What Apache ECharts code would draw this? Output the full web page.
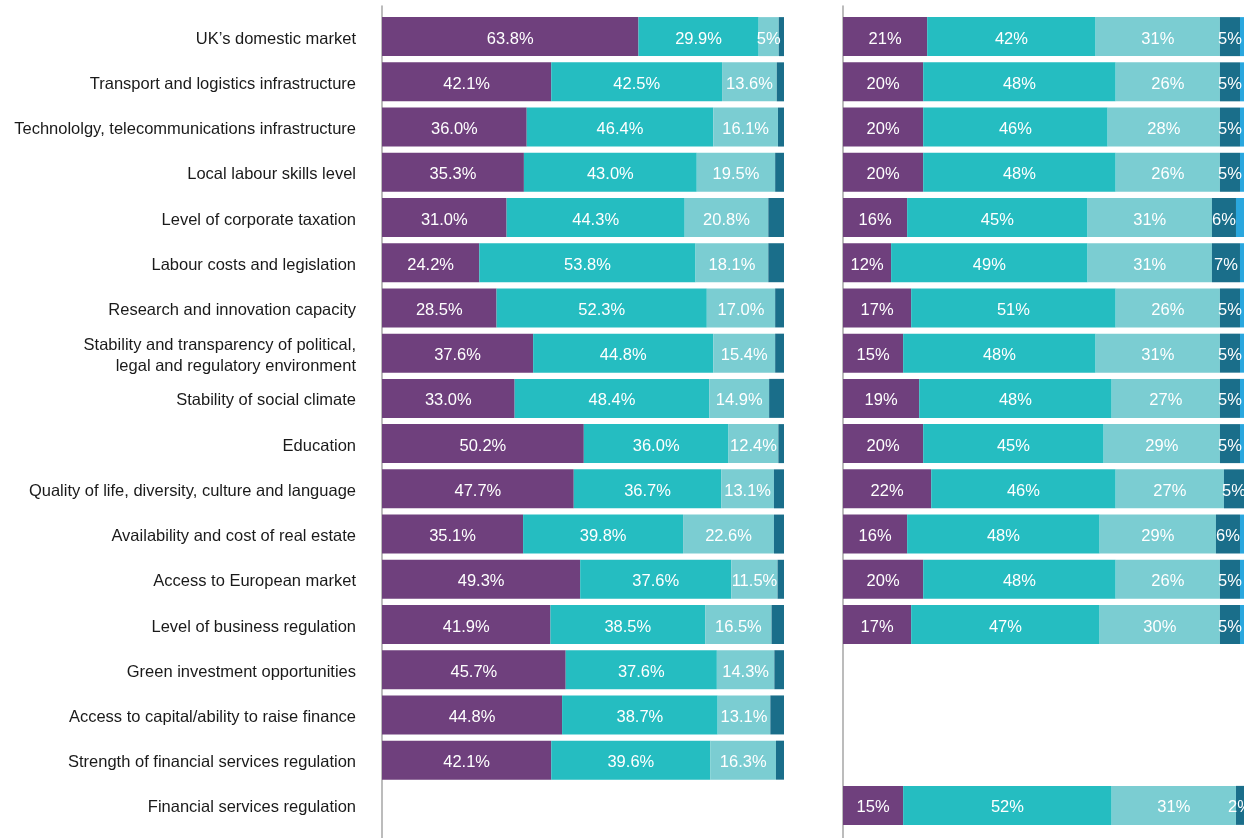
<!DOCTYPE html>
<html>
<head>
<meta charset="utf-8">
<script src="https://cdn.jsdelivr.net/npm/echarts@6/dist/echarts.min.js"></script>
<style>html,body{margin:0;padding:0;background:#fff}#c{width:1247px;height:838px}</style>
</head>
<body>
<div id="c"></div>
<script>
const categories = [
  "UK’s domestic market",
  "Transport and logistics infrastructure",
  "Technololgy, telecommunications infrastructure",
  "Local labour skills level",
  "Level of corporate taxation",
  "Labour costs and legislation",
  "Research and innovation capacity",
  "Stability and transparency of political,\nlegal and regulatory environment",
  "Stability of social climate",
  "Education",
  "Quality of life, diversity, culture and language",
  "Availability and cost of real estate",
  "Access to European market",
  "Level of business regulation",
  "Green investment opportunities",
  "Access to capital/ability to raise finance",
  "Strength of financial services regulation",
  "Financial services regulation"
];

// Left panel (one decimal)
const leftPurple = [63.8, 42.1, 36.0, 35.3, 31.0, 24.2, 28.5, 37.6, 33.0, 50.2, 47.7, 35.1, 49.3, 41.9, 45.7, 44.8, 42.1, null];
const leftTeal   = [29.9, 42.5, 46.4, 43.0, 44.3, 53.8, 52.3, 44.8, 48.4, 36.0, 36.7, 39.8, 37.6, 38.5, 37.6, 38.7, 39.6, null];
const leftLight  = [5.0, 13.6, 16.1, 19.5, 20.8, 18.1, 17.0, 15.4, 14.9, 12.4, 13.1, 22.6, 11.5, 16.5, 14.3, 13.1, 16.3, null];
const leftDark   = [1.3, 1.8, 1.5, 2.2, 3.9, 3.9, 2.2, 2.2, 3.7, 1.4, 2.5, 2.5, 1.6, 3.1, 2.4, 3.4, 2.0, null];
const leftLightShortLabel = { 0: "5%" };

// Right panel (whole percent)
const rightPurple = [21, 20, 20, 20, 16, 12, 17, 15, 19, 20, 22, 16, 20, 17, null, null, null, 15];
const rightTeal   = [42, 48, 46, 48, 45, 49, 51, 48, 48, 45, 46, 48, 48, 47, null, null, null, 52];
const rightLight  = [31, 26, 28, 26, 31, 31, 26, 31, 27, 29, 27, 29, 26, 30, null, null, null, 31];
const rightDark   = [5, 5, 5, 5, 6, 7, 5, 5, 5, 5, 5, 6, 5, 5, null, null, null, 2];
const rightBlue   = [1, 1, 1, 1, 2, 1, 1, 1, 1, 1, 0, 1, 1, 1, null, null, null, 0];

const colors = { purple: "#6f407d", teal: "#25bdc1", light: "#7bcdd2", dark: "#1a6e8a", blue: "#2aa7de" };

// pick the narrowest installed face
const mctx = document.createElement('canvas').getContext('2d');
function measure(font, s) { mctx.font = font; return mctx.measureText(s).width; }
const probe = "Technololgy, telecommunications infrastructure";
const candidates = [
  { style: 'normal', family: "'Liberation Sans Narrow'" },
  { style: 'condensed', family: "'DejaVu Sans Condensed'" },
  { style: 'condensed', family: "'DejaVu Sans'" },
  { style: 'condensed', family: "'Liberation Sans'" },
  { style: 'normal', family: "Roboto" },
  { style: 'normal', family: "Lato" },
  { style: 'normal', family: "'Liberation Sans'" }
];
let best = candidates[candidates.length - 1], bestW = Infinity;
candidates.forEach(c => {
  const wv = measure(c.style + ' 20px ' + c.family + ', monospace', probe);
  if (wv < bestW) { bestW = wv; best = c; }
});
const FONT = best.family + ", sans-serif";
const FSTYLE = best.style;
// target widths from reference
const catSize = Math.min(20, Math.max(14, Math.floor(20 * 348 / bestW * 2) / 2));
const lblW = measure(FSTYLE + ' 20px ' + FONT, '63.8%');
const lblSize = Math.min(20, Math.max(14, Math.floor(20 * 47 / lblW * 2) / 2));

const chart = echarts.init(document.getElementById('c'), null, { renderer: 'canvas' });

function barSeries(name, data, color, gridIdx, showLabel, fmt) {
  return {
    name, type: 'bar', stack: 'g' + gridIdx,
    xAxisIndex: gridIdx, yAxisIndex: gridIdx,
    barWidth: 39,
    data: data.map((v, i) => {
      if (fmt === 'leftLight' && leftLightShortLabel[i] !== undefined) {
        return { value: v, label: { formatter: leftLightShortLabel[i] } };
      }
      return v;
    }),
    itemStyle: { color },
    label: {
      show: showLabel,
      position: 'inside',
      offset: [0, 2.5],
      color: '#ffffff',
      fontFamily: FONT,
      fontStyle: FSTYLE,
      fontSize: lblSize,
      formatter: p => {
        if (p.value == null) return '';
        return fmt === 'int' ? Math.round(p.value) + '%' : Number(p.value).toFixed(1) + '%';
      }
    },
    emphasis: { disabled: true },
    silent: true
  };
}

const catAxis = (gridIndex, showLabels) => ({
  type: 'category', gridIndex, data: categories, inverse: true,
  axisLine: { show: false }, axisTick: { show: false },
  axisLabel: {
    show: showLabels, color: '#1a1a1a', fontFamily: FONT, fontStyle: FSTYLE, fontSize: catSize,
    margin: 26, align: 'right',
    formatter: v => v.split('\n').map(s => '{a|' + s + '}').join('\n'),
    rich: {
      a: { color: '#1a1a1a', fontFamily: FONT, fontStyle: FSTYLE, fontSize: catSize,
           lineHeight: 21, padding: [5, 0, 0, 0], align: 'right' }
    }
  }
});
const valAxis = (gridIndex) => ({
  type: 'value', gridIndex, min: 0, max: 100, show: false
});
const lineGridX = (gridIndex) => ({ type: 'value', gridIndex, min: 0, max: 1, show: false });
const lineGridY = (gridIndex) => ({
  type: 'value', gridIndex, min: 0, max: 1,
  axisLine: { show: true, lineStyle: { color: '#a6a6a6', width: 1.5 } },
  axisTick: { show: false }, axisLabel: { show: false }, splitLine: { show: false }
});

const gridBase = { containLabel: false, outerBoundsMode: 'none' };
chart.setOption({
  animation: false,
  grid: [
    Object.assign({ left: 382, width: 402, top: 14, bottom: 10 }, gridBase),
    Object.assign({ left: 843, width: 401, top: 14, bottom: 10 }, gridBase),
    Object.assign({ left: 382, width: 10, top: 6, bottom: 0 }, gridBase),
    Object.assign({ left: 843, width: 10, top: 6, bottom: 0 }, gridBase)
  ],
  xAxis: [valAxis(0), valAxis(1), lineGridX(2), lineGridX(3)],
  yAxis: [catAxis(0, true), catAxis(1, false), lineGridY(2), lineGridY(3)],
  series: [
    barSeries('L1', leftPurple, colors.purple, 0, true, 'dec'),
    barSeries('L2', leftTeal, colors.teal, 0, true, 'dec'),
    barSeries('L3', leftLight, colors.light, 0, true, 'leftLight'),
    barSeries('L4', leftDark, colors.dark, 0, false, 'dec'),
    barSeries('R1', rightPurple, colors.purple, 1, true, 'int'),
    barSeries('R2', rightTeal, colors.teal, 1, true, 'int'),
    barSeries('R3', rightLight, colors.light, 1, true, 'int'),
    barSeries('R4', rightDark, colors.dark, 1, true, 'int'),
    barSeries('R5', rightBlue, colors.blue, 1, false, 'int')
  ]
});
</script>
</body>
</html>
